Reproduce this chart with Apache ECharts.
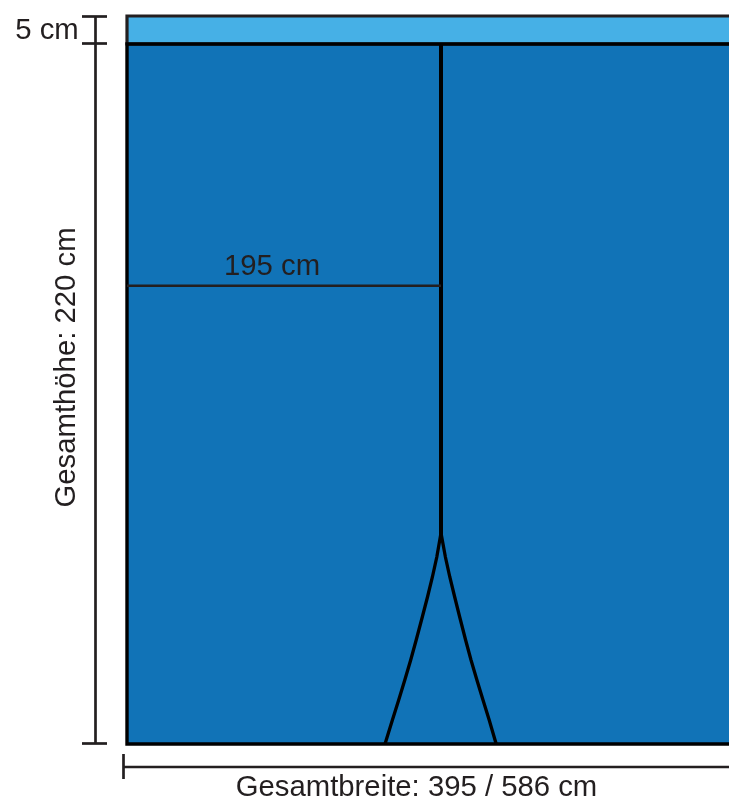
<!DOCTYPE html>
<html><head><meta charset="utf-8">
<style>html,body{margin:0;padding:0;background:#fff}#c{width:729px;height:798px}</style>
<script src="https://cdn.jsdelivr.net/npm/echarts@6/dist/echarts.min.js"></script>
</head><body><div id="c"></div>
<script>
// Diagram units equal picture units (origin top left): the drawing is not to scale in cm.
const panels = [
  {x0:127, y0:16, x1:731, y1:44, fill:'#46B0E6'},
  {x0:127, y0:44, x1:731, y1:744, fill:'#1173B7'}
];
const seamLine = [[441,44],[441,535]];
const curveLeft = [[441,533],[436.8,557],[432.4,577],[427.5,597],[422.3,617],[416.2,640],[410.7,660],[404.8,680],[398.7,700],[392.4,720],[385,744]];
const curveRight = [[441,533],[445.4,557],[449.8,577],[454.7,597],[459.7,617],[465.6,640],[471,660],[476.9,680],[483,700],[489.2,720],[496.2,744]];
const widthMark = [[127,285.7],[441,285.7]];
const outlineMain = [[731,744],[127,744],[127,44],[731,44]];
const outlineBand = [[731,44],[127,44],[127,16],[731,16]];
const dimHeight = [[95.5,16.5],[95.5,743.5]];
const capTop = [[82,16.5],[107,16.5]];
const capMid = [[82,43.5],[107,43.5]];
const capBottom = [[82,743.5],[107,743.5]];
const dimWidth = [[124,767],[731,767]];
const capWidth = [[123.5,754],[123.5,779]];
const labels = ['5 cm','195 cm','Gesamthöhe: 220 cm','Gesamtbreite: 395 / 586 cm'];
const labelAt = [[47,31],[272,267],[66.5,367.5],[416.5,787.5]];
const labelTurn = [0,0,90,0];

const line = (data, color, width) => ({
  type:'line', data, showSymbol:false, symbol:'none', smooth:false, z:3,
  lineStyle:{color, width, cap:'butt', join:'miter'}, silent:true
});
const chart = echarts.init(document.getElementById('c'), null, {renderer:'canvas'});
chart.setOption({
  animation:false,
  grid:{left:0,right:0,top:0,bottom:0},
  xAxis:{type:'value',min:0,max:729,show:false},
  yAxis:{type:'value',min:0,max:798,inverse:true,show:false},
  series:[
    {type:'custom',z:1,silent:true,clip:true,data:panels.map(p=>[p.x0,p.y0,p.x1,p.y1,p.fill]),
     encode:{x:[0,2],y:[1,3]},
     renderItem:(params,api)=>{
       const a=api.coord([api.value(0),api.value(1)]), b=api.coord([api.value(2),api.value(3)]);
       return {type:'rect',shape:{x:a[0],y:a[1],width:b[0]-a[0],height:b[1]-a[1]},style:{fill:panels[params.dataIndex].fill}};
     }},
    line(outlineBand,'#231F20',3.2),
    line(outlineMain,'#000000',3.4),
    line(seamLine,'#000000',4),
    line(curveLeft,'#000000',3.3),
    line(curveRight,'#000000',3.3),
    line(widthMark,'#231F20',2.6),
    line(dimHeight,'#231F20',2.7),
    line(capTop,'#231F20',2.7),
    line(capMid,'#231F20',2.7),
    line(capBottom,'#231F20',2.7),
    line(dimWidth,'#231F20',2.7),
    line(capWidth,'#231F20',2.7),
    {type:'custom',z:5,silent:true,data:labelAt,
     renderItem:(params,api)=>{
       const i=params.dataIndex, p=api.coord([api.value(0),api.value(1)]);
       return {type:'text',x:p[0],y:p[1],rotation:labelTurn[i]*Math.PI/180,
         style:{text:labels[i],fill:'#231F20',font:'29.3px "Liberation Sans", Arial, sans-serif',align:'center',verticalAlign:'middle'}};
     }}
  ]
});
</script></body></html>
